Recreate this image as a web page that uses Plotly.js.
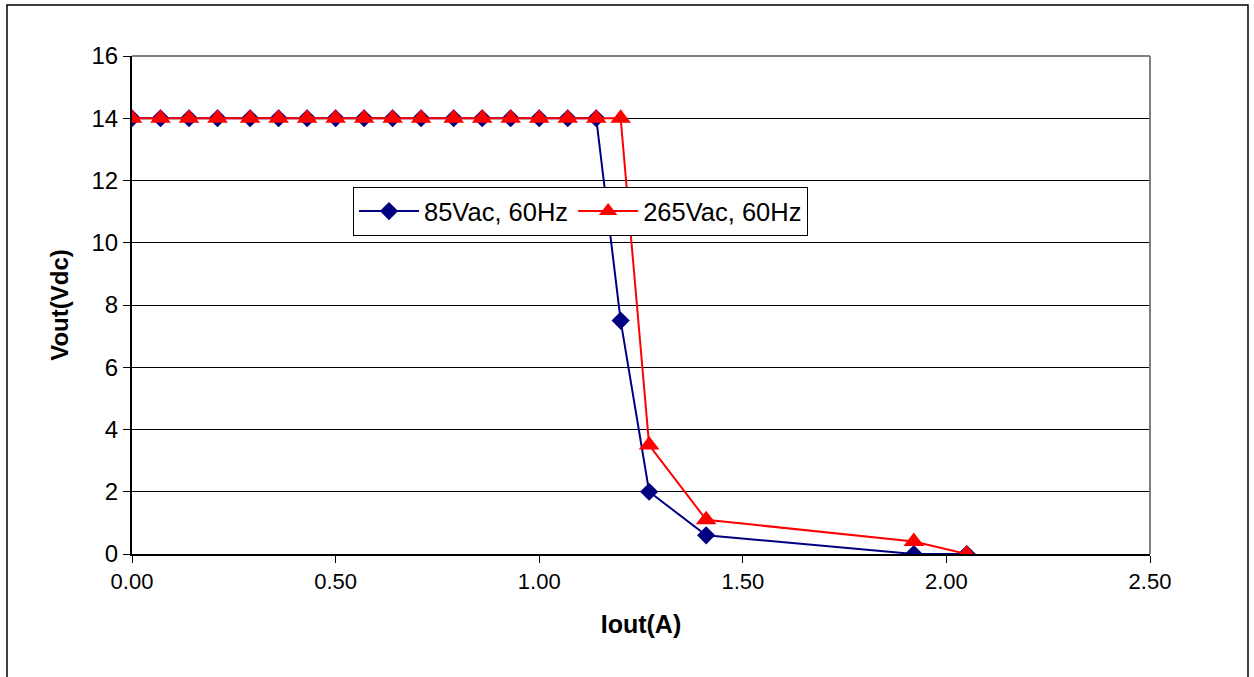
<!DOCTYPE html>
<html>
<head>
<meta charset="utf-8">
<script src="https://cdn.plot.ly/plotly-3.0.1.min.js"></script>
<style>
html,body{margin:0;padding:0;background:#fff;}
#chart{width:1254px;height:677px;}
</style>
</head>
<body>
<div id="chart"></div>
<script>
// Data
const seriesNames = ["85Vac, 60Hz", "265Vac, 60Hz"];
const iout85 = [0.00, 0.07, 0.14, 0.21, 0.29, 0.36, 0.43, 0.50, 0.57, 0.64, 0.71, 0.79, 0.86, 0.93, 1.00, 1.07, 1.14, 1.20, 1.27, 1.41, 1.92, 2.05];
const vout85 = [14, 14, 14, 14, 14, 14, 14, 14, 14, 14, 14, 14, 14, 14, 14, 14, 14, 7.5, 2.0, 0.6, 0, 0];
const iout265 = [0.00, 0.07, 0.14, 0.21, 0.29, 0.36, 0.43, 0.50, 0.57, 0.64, 0.71, 0.79, 0.86, 0.93, 1.00, 1.07, 1.14, 1.20, 1.27, 1.41, 1.92, 2.05];
const vout265 = [14, 14, 14, 14, 14, 14, 14, 14, 14, 14, 14, 14, 14, 14, 14, 14, 14, 14, 3.5, 1.1, 0.4, 0];
const xTitle = "Iout(A)";
const yTitle = "Vout(Vdc)";

const FONT = "Liberation Sans, Arial, sans-serif";

const traces = [
  {
    x: iout85, y: vout85, name: seriesNames[0], type: "scatter", mode: "lines+markers",
    line: {color: "#000080", width: 2},
    marker: {symbol: "diamond", size: 14, color: "#000080"}
  },
  {
    x: iout265, y: vout265, name: seriesNames[1], type: "scatter", mode: "lines+markers",
    line: {color: "#ff0000", width: 2},
    marker: {symbol: "triangle-up", size: 18, color: "#ff0000"}
  }
];

const L = 132, R = 1150, T = 56, B = 554, W = 1254, H = 677;
const pw = R - L, ph = B - T;
const px = v => (v - L) / pw;
const py = v => (B - v) / ph;

const layout = {
  width: W, height: H,
  margin: {l: L, r: W - R, t: T, b: H - B, pad: 0},
  paper_bgcolor: "#ffffff",
  plot_bgcolor: "#ffffff",
  font: {family: FONT, color: "#000000"},
  showlegend: true,
  legend: {
    orientation: "h",
    x: px(353), y: py(187), xanchor: "left", yanchor: "top",
    bgcolor: "#ffffff", bordercolor: "#000000", borderwidth: 1,
    font: {family: FONT, size: 25.5, color: "#000000"},
    itemwidth: 60, tracegroupgap: 0
  },
  xaxis: {
    range: [0, 2.5], dtick: 0.5, tick0: 0, tickformat: ".2f",
    showgrid: false, zeroline: false,
    showline: true, linecolor: "#000000", linewidth: 2,
    ticks: "outside", ticklen: 7, tickcolor: "#000000", tickwidth: 1,
    tickfont: {family: FONT, size: 22, color: "#000000"},
    title: {text: xTitle, font: {family: FONT, size: 25, color: "#000000", weight: "bold"}, standoff: 22},
    fixedrange: true
  },
  yaxis: {
    range: [0, 16], dtick: 2, tick0: 0,
    showgrid: true, gridcolor: "#000000", gridwidth: 1,
    zeroline: false,
    showline: true, linecolor: "#000000", linewidth: 2,
    ticks: "outside", ticklen: 7, tickcolor: "#000000", tickwidth: 1,
    tickfont: {family: FONT, size: 24, color: "#000000"},
    title: {text: yTitle, font: {family: FONT, size: 24, color: "#000000", weight: "bold"}, standoff: 16},
    fixedrange: true
  },
  shapes: [
    {type: "line", xref: "paper", yref: "paper", x0: 0, x1: 1, y0: 1, y1: 1, line: {color: "#808080", width: 2}, layer: "above"},
    {type: "line", xref: "paper", yref: "paper", x0: 1, x1: 1, y0: 0, y1: 1, line: {color: "#808080", width: 2}, layer: "above"},
    {type: "rect", xref: "paper", yref: "paper",
     x0: px(7), x1: px(1248), y0: py(720), y1: py(5),
     line: {color: "#000000", width: 1.5}, fillcolor: "rgba(0,0,0,0)", layer: "above"}
  ]
};

Plotly.newPlot("chart", traces, layout, {displayModeBar: false, staticPlot: true});
</script>
</body>
</html>
